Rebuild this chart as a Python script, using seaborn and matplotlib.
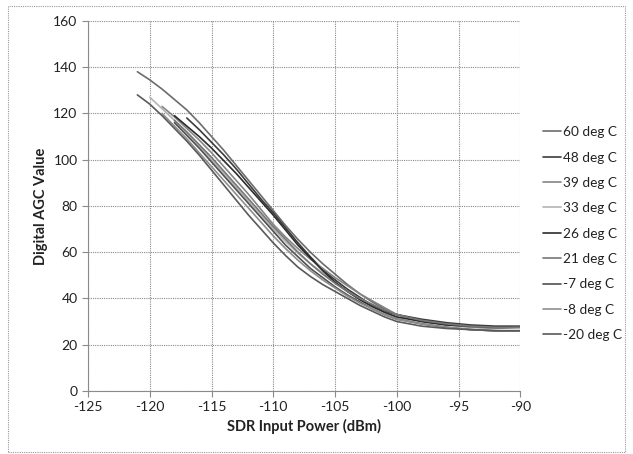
import numpy as np
import pandas as pd
import matplotlib
matplotlib.use("Agg")
from matplotlib import pyplot as plt
from matplotlib.patches import Rectangle
import seaborn as sb

# shared input power grid (dBm)
power = [-121, -120, -119, -118, -117, -116, -115, -114, -113, -112, -111,
         -110, -109, -108, -107, -106, -105, -104, -103, -102, -101, -100,
         -98, -96, -94, -92, -90]

N = None
agc_60 = [138, 134.5, 130.5, 126, 121.5, 116, 110, 104, 97.5, 91, 84.5,
          78, 71.5, 65.5, 60, 55, 50.5, 46, 42, 38.5, 35.5, 33,
          30.5, 29, 28, 27.5, 27.5]
agc_48 = [N, N, N, N, 118, 113, 107.5, 102, 96, 89.5, 83,
          77, 70.5, 64, 58, 52.5, 48, 44, 40.5, 37, 34.5, 33,
          31, 29.5, 28.5, 28, 28]
agc_39 = [N, N, 123, 118.5, 113.5, 108.5, 103, 97, 91, 85, 78.5,
          72, 66.5, 61.5, 57, 53, 49, 45.5, 42, 39, 36, 33,
          30, 28.5, 27.5, 27, 27.5]
agc_33 = [N, 127, 122, 117, 111.5, 106, 100, 94, 88, 82, 76,
          70, 64.5, 59.5, 55, 51, 47, 43, 39.5, 36.5, 34, 31.5,
          29, 27.5, 26.5, 26, 26]
agc_26 = [N, N, N, 119, 114.5, 110, 105, 99.5, 94, 88, 82,
          76, 69.5, 63, 57.5, 52, 47, 43, 39.5, 36.5, 34, 32,
          30, 28.5, 28, 27.5, 27.5]
agc_21 = [N, N, N, 117, 112, 106.5, 101, 95, 89, 83, 77,
          71, 65.5, 60, 55, 50.5, 46.5, 43, 40, 37.5, 35, 33,
          30.5, 29, 28, 27.5, 27.5]
agc_m7 = [N, N, N, 116, 110.5, 105, 99, 93, 87, 81, 75,
          69, 63, 58, 53, 49, 45, 41.5, 38.5, 35.5, 33, 31,
          29, 27.5, 26.5, 26, 26]
agc_m8 = [N, N, 120, 114.5, 109, 103, 97, 91, 85, 79, 73,
          67, 61.5, 56.5, 52, 48, 44.5, 41, 38, 35.5, 33, 31,
          29, 27.5, 26.5, 26, 26]
agc_m20 = [128, 124, 119, 113.5, 108, 102, 95.5, 89, 82.5, 76, 70,
           64, 58.5, 53.5, 49.5, 46, 43, 40, 37, 34.5, 32, 30,
           28, 27, 26.5, 26, 26]

labels = ["60 deg C", "48 deg C", "39 deg C", "33 deg C", "26 deg C",
          "21 deg C", "-7 deg C", "-8 deg C", "-20 deg C"]
series = [agc_60, agc_48, agc_39, agc_33, agc_26, agc_21, agc_m7, agc_m8, agc_m20]
colors = ["#6c6c6c", "#3c3c3c", "#858585", "#b4b4b4", "#2c2c2c",
          "#777777", "#505050", "#8e8e8e", "#5a5a5a"]

rows = []
for lab, vals in zip(labels, series):
    for p, v in zip(power, vals):
        if v is not None:
            rows.append({"power": p, "agc": v, "temp": lab})
df = pd.DataFrame(rows)

sb.set_style("white")
plt.rcParams["font.family"] = ["Lato", "DejaVu Sans"]
plt.rcParams["axes.unicode_minus"] = False

fig = plt.figure(figsize=(6.33, 4.54), dpi=100)
ax = fig.add_axes([0.139, 0.139, 0.683, 0.815])

sb.lineplot(data=df, x="power", y="agc", hue="temp", hue_order=labels,
            palette=dict(zip(labels, colors)), linewidth=1.2, ax=ax,
            sort=True, estimator=None)

ax.set_xlim(-125, -90)
ax.set_ylim(0, 160)
ax.set_xticks(np.arange(-125, -89, 5))
ax.set_yticks(np.arange(0, 161, 20))
ax.grid(True, color="#8a8a8a", linestyle=(0, (1, 1)), linewidth=0.8)
for s in ["top", "right"]:
    ax.spines[s].set_visible(False)
ax.spines["left"].set_color("#8a8a8a")
ax.spines["bottom"].set_color("#8a8a8a")
ax.tick_params(axis="both", labelsize=10, colors="#8a8a8a", labelcolor="#222222",
               length=4, direction="out", left=True, bottom=True)
ax.set_xlabel("SDR Input Power (dBm)", fontsize=10.5, fontweight="bold", color="#222222")
ax.set_ylabel("Digital AGC Value", fontsize=10.5, fontweight="bold", color="#222222")

leg = ax.legend(loc="upper left", bbox_to_anchor=(1.04, 0.73), frameon=False,
                handlelength=1.3, handletextpad=0.15, labelspacing=0.98,
                fontsize=9.8, borderaxespad=0)
for t in leg.get_texts():
    t.set_color("#222222")

# outer chart border
fig.patches.append(Rectangle((0.013, 0.005), 0.975, 0.982, transform=fig.transFigure,
                             fill=False, edgecolor="#999999", linewidth=0.8,
                             linestyle=(0, (1, 1))))

plt.savefig("out.png", dpi=100)
